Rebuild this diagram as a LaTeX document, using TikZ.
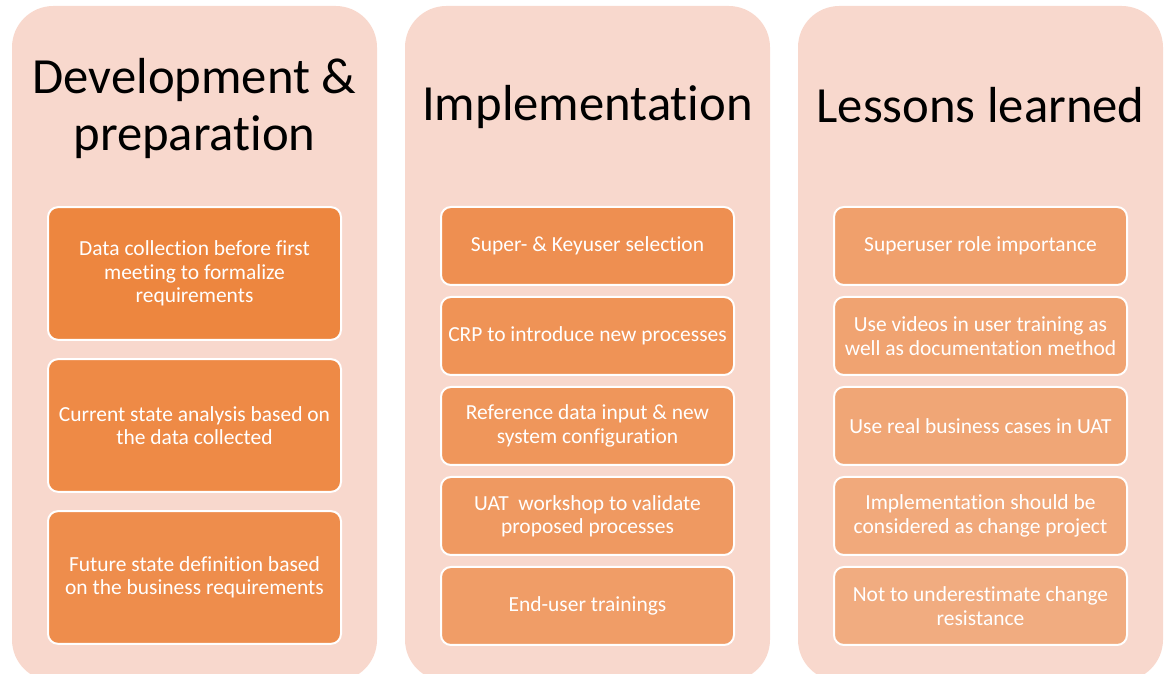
\documentclass[tikz,border=0pt]{standalone}
\usepackage{fontspec}
\setmainfont{Carlito}[Ligatures=NoCommon]
\usepackage{tikz}
\usetikzlibrary{positioning}

\definecolor{panelpink}{HTML}{F8D8CD}
\definecolor{dev1}{HTML}{ED863F}
\definecolor{dev2}{HTML}{EE8A46}
\definecolor{dev3}{HTML}{EE8D4C}
\definecolor{imp1}{HTML}{EE8F51}
\definecolor{imp2}{HTML}{EF9356}
\definecolor{imp3}{HTML}{EF965B}
\definecolor{imp4}{HTML}{EF9961}
\definecolor{imp5}{HTML}{F09D67}
\definecolor{les1}{HTML}{F0A06C}
\definecolor{les2}{HTML}{F0A371}
\definecolor{les3}{HTML}{F0A676}
\definecolor{les4}{HTML}{F1A97B}
\definecolor{les5}{HTML}{F1AC80}

\begin{document}
\begin{tikzpicture}[x=0.75pt,y=0.75pt,node distance=67.5pt,
  panel/.style={rectangle,rounded corners=31pt,fill=panelpink,
    minimum width=273.75pt,minimum height=506.25pt,inner sep=0pt},
  title/.style={align=center,font=\fontsize{38}{43}\selectfont,text=black},
  item/.style={rectangle,rounded corners=7.5pt,draw=white,line width=1.5pt,
    minimum width=219.75pt,minimum height=58.5pt,align=center,text=white,
    font=\fontsize{16.1}{17.5}\selectfont,inner sep=2pt},
  big item/.style={item,minimum height=99.5pt}]

  \useasboundingbox (0,0) rectangle (1165,674);

  % three columns
  \node[panel] (p1) at (194.5,330.5) {};
  \node[panel] (p2) at (587.5,330.5) {};
  \node[panel] (p3) at (980.5,330.5) {};

  \node[title] (t1) at (194.5,565.5) {Development \&\\preparation};
  \node[title] (t2) at (587.5,567) {Implementation};
  \node[title] (t3) at (980.5,569) {Lessons learned};

  % development & preparation
  \node[big item,fill=dev1] (d1) at (194.5,400.5)
    {Data collection before first\\meeting to formalize\\requirements};
  \node[big item,fill=dev2] (d2) [below of=d1,node distance=114pt]
    {Current state analysis based on\\the data collected};
  \node[big item,fill=dev3] (d3) [below of=d2,node distance=114pt]
    {Future state definition based\\on the business requirements};

  % implementation
  \node[item,fill=imp1] (i1) at (587.5,428) {Super- \& Keyuser selection};
  \node[item,fill=imp2] (i2) [below of=i1] {CRP to introduce new processes};
  \node[item,fill=imp3] (i3) [below of=i2]
    {Reference data input \& new\\system configuration};
  \node[item,fill=imp4] (i4) [below of=i3]
    {UAT\ \ workshop to validate\\proposed processes};
  \node[item,fill=imp5] (i5) [below of=i4] {End-user trainings};

  % lessons learned
  \node[item,fill=les1] (l1) at (980.5,428) {Superuser role importance};
  \node[item,fill=les2] (l2) [below of=l1]
    {Use videos in user training as\\well as documentation method};
  \node[item,fill=les3] (l3) [below of=l2] {Use real business cases in UAT};
  \node[item,fill=les4] (l4) [below of=l3]
    {Implementation should be\\considered as change project};
  \node[item,fill=les5] (l5) [below of=l4]
    {Not to underestimate change\\resistance};

\end{tikzpicture}
\end{document}
